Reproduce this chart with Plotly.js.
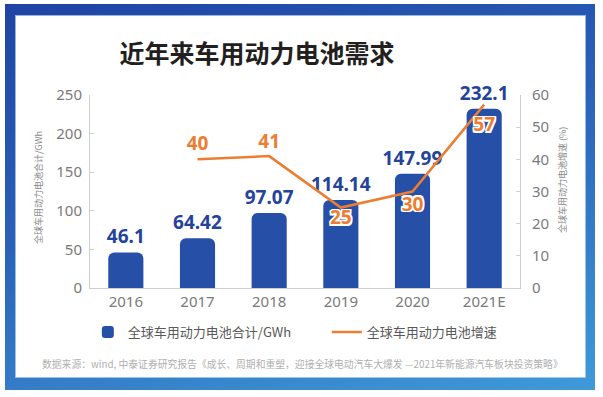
<!DOCTYPE html>
<html>
<head>
<meta charset="utf-8">
<script src="https://cdn.plot.ly/plotly-3.0.1.min.js"></script>
<style>
  html, body { margin: 0; padding: 0; background: #fff; }
  #wrap { position: relative; width: 603px; height: 397px; overflow: hidden; background: #fff; }
  #frame { position: absolute; left: 5px; top: 4px; width: 590px; height: 386px;
           background: linear-gradient(165deg, #1f44a4 0%, #2a62b8 45%, #3f9ad8 100%); }
  #inner { position: absolute; left: 16px; top: 16px; width: 569px; height: 361px; background: #fff;
           box-shadow: 0 0 0 1px rgba(200,225,245,0.7); }
  #chart { position: absolute; left: 0; top: 0; width: 603px; height: 397px; }
</style>
</head>
<body>
<div id="wrap">
  <div id="frame"></div>
  <div id="inner"></div>
  <div id="chart"></div>
</div>
<script>
const categories = ["2016", "2017", "2018", "2019", "2020", "2021E"];
const batteryTotal = [46.1, 64.42, 97.07, 114.14, 147.99, 232.1];
const growthRate = [null, 40, 41, 25, 30, 57];
const growthLabelPos = ["top center", "top center", "top center", "bottom center", "bottom center", "bottom center"];
const leftTicks = [0, 50, 100, 150, 200, 250];
const rightTicks = [0, 10, 20, 30, 40, 50, 60];

const titleText = "近年来车用动力电池需求";
const barName = "全球车用动力电池合计/GWh";
const lineName = "全球车用动力电池增速";
const leftAxisTitle = "全球车用动力电池合计/GWh";
const rightAxisTitle = "全球车用动力电池增速 (%)";
const sourceText = "数据来源：wind, 中泰证券研究报告《成长、周期和重塑，迎接全球电动汽车大爆发 —2021年新能源汽车板块投资策略》";

const CJK = '"Noto Sans CJK SC", "Noto Sans", sans-serif';
const NUM = '"Noto Sans", "Open Sans", sans-serif';

const W = 603, H = 397;
const L = 90, R = 83, T = 95, B = 109;
const pw = W - L - R, ph = H - T - B;
const px2x = p => (p - L) / pw;
const py2y = p => (H - B - p) / ph;

const outline = "-1.5px -1.5px 0 #fff, 1.5px -1.5px 0 #fff, -1.5px 1.5px 0 #fff, 1.5px 1.5px 0 #fff, 0 1.5px 0 #fff, 0 -1.5px 0 #fff, 1.5px 0 0 #fff, -1.5px 0 0 #fff";

// invisible marker sizes only set the gap between each point and its label
const labelGap = [0, 6, 4, 2, 6, 18];

const traces = [
  {
    type: "bar",
    name: barName,
    x: categories,
    y: batteryTotal,
    text: batteryTotal.map(String),
    textposition: "outside",
    constraintext: "none",
    cliponaxis: false,
    textfont: { family: NUM, size: 19, color: "#24439a", weight: "bold" },
    marker: { color: "#2650a7", cornerradius: 6 },
    hoverinfo: "skip"
  },
  {
    type: "scatter",
    mode: "lines+markers+text",
    name: lineName,
    x: categories,
    y: growthRate,
    yaxis: "y2",
    text: growthRate.map(v => v === null ? "" : String(v)),
    textposition: growthLabelPos,
    cliponaxis: false,
    textfont: { family: NUM, size: 19, color: "#ed7d31", weight: "bold", shadow: outline },
    line: { color: "#ed7d31", width: 2.5 },
    marker: { size: labelGap, color: "rgba(237,125,49,0)", line: { width: 0, color: "rgba(0,0,0,0)" } },
    hoverinfo: "skip"
  }
];

const layout = {
  width: W, height: H,
  margin: { l: L, r: R, t: T, b: B },
  paper_bgcolor: "rgba(0,0,0,0)",
  plot_bgcolor: "rgba(0,0,0,0)",
  showlegend: true,
  bargap: 0.51,
  title: {
    text: titleText,
    font: { family: CJK, size: 25, color: "#231f20", weight: "bold" },
    x: 257 / W, xanchor: "center", xref: "container",
    y: 1 - 54 / H, yanchor: "middle", yref: "container"
  },
  xaxis: {
    type: "category",
    showline: true, linecolor: "#cfcfcf", linewidth: 1,
    ticks: "", showgrid: false, zeroline: false,
    tickfont: { family: NUM, size: 15, color: "#7a7a7a" }
  },
  yaxis: {
    range: [0, 250], tickvals: leftTicks,
    showline: true, linecolor: "#cfcfcf", linewidth: 1,
    ticks: "inside", ticklen: 4, tickcolor: "#cfcfcf",
    showgrid: false, zeroline: false,
    ticklabelstandoff: 4,
    tickfont: { family: NUM, size: 15, color: "#7a7a7a" }
  },
  yaxis2: {
    overlaying: "y", side: "right",
    range: [0, 60], tickvals: rightTicks,
    showline: true, linecolor: "#cfcfcf", linewidth: 1,
    ticks: "inside", ticklen: 4, tickcolor: "#cfcfcf",
    showgrid: false, zeroline: false,
    ticklabelstandoff: 8,
    tickfont: { family: NUM, size: 15, color: "#7a7a7a" }
  },
  legend: {
    orientation: "h",
    x: -0.005, xanchor: "left",
    y: py2y(332), yanchor: "middle",
    font: { family: CJK, size: 13, color: "#595959" },
    bgcolor: "rgba(0,0,0,0)",
    entrywidth: 194, entrywidthmode: "pixels",
    traceorder: "normal"
  },
  annotations: [
    {
      text: leftAxisTitle, xref: "paper", yref: "paper",
      x: px2x(38), y: py2y(188), textangle: -90,
      xanchor: "center", yanchor: "middle", showarrow: false,
      font: { family: CJK, size: 9, color: "#8a8a8a" }
    },
    {
      text: rightAxisTitle, xref: "paper", yref: "paper",
      x: px2x(562), y: py2y(180), textangle: -90,
      xanchor: "center", yanchor: "middle", showarrow: false,
      font: { family: CJK, size: 9, color: "#8a8a8a" }
    },
    {
      text: sourceText, xref: "paper", yref: "paper",
      x: px2x(40), y: py2y(364), xanchor: "left", yanchor: "middle",
      showarrow: false,
      font: { family: CJK, size: 9.8, color: "#b0b0b0" }
    }
  ]
};

Plotly.newPlot("chart", traces, layout, { staticPlot: true, displayModeBar: false });
</script>
</body>
</html>
